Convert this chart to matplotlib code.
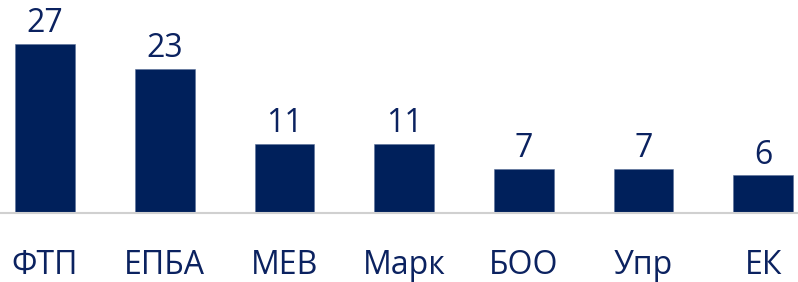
import matplotlib.pyplot as plt

# данные
categories = ["ФТП", "ЕПБА", "МЕВ", "Марк", "БОО", "Упр", "ЕК"]
values = [27, 23, 11, 11, 7, 7, 6]

bar_color = "#00205B"
text_color = "#0B2260"

plt.rcParams['font.family'] = ['Open Sans', 'DejaVu Sans']

fig = plt.figure(figsize=(7.98, 2.82), dpi=100)
# ось: от левого края до правого, база на 213 px сверху
ax = fig.add_axes([0, 1 - 213 / 282, 1, 213 / 282])

x = range(len(categories))
ax.bar(x, values, width=0.5, color=bar_color, edgecolor="#5a6f9a", linewidth=0.4)

for i, v in zip(x, values):
    ax.text(i, v + 0.6, str(v), ha="center", va="bottom", fontsize=23,
            color=text_color, clip_on=False)

ax.set_xlim(-0.376, 6.29)
ax.set_ylim(0, 213 / 6.26)

ax.set_xticks(list(x))
ax.set_xticklabels(categories, fontsize=23, color=text_color)
ax.tick_params(axis="x", length=0, pad=26)
ax.set_yticks([])

for side in ["top", "right", "left"]:
    ax.spines[side].set_visible(False)
ax.spines["bottom"].set_color("#d0d0d0")
ax.spines["bottom"].set_linewidth(1.5)

fig.savefig("out.png", dpi=100)
